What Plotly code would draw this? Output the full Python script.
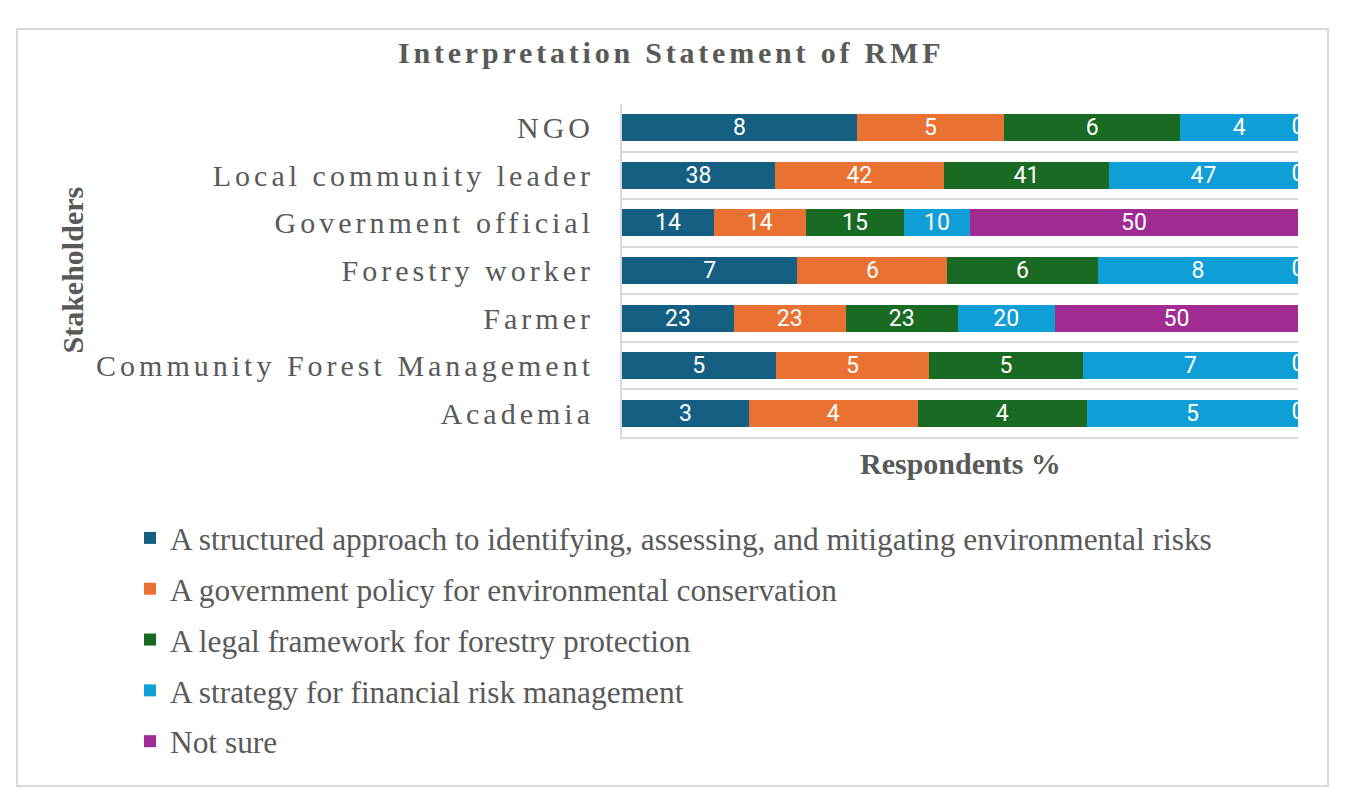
import plotly.graph_objects as go

categories = ["NGO", "Local community leader", "Government official", "Forestry worker",
              "Farmer", "Community Forest Management", "Academia"]
series_names = [
    "A structured approach to identifying, assessing, and mitigating environmental risks",
    "A government policy for environmental conservation",
    "A legal framework for forestry protection",
    "A strategy for financial risk management",
    "Not sure",
]
structured = [8, 38, 14, 7, 23, 5, 3]
gov_policy = [5, 42, 14, 6, 23, 5, 4]
legal = [6, 41, 15, 6, 23, 5, 4]
financial = [4, 47, 10, 8, 20, 7, 5]
not_sure = [0, 0, 50, 0, 50, 0, 0]
colors = ["#156082", "#E97132", "#196B24", "#0F9ED5", "#A02B93"]

series = [structured, gov_policy, legal, financial, not_sure]

# plot area in pixels
L, R, T, B = 622, 1298, 104, 437
W, H = R - L, B - T

def px_x(x):
    return (x - L) / W

def px_y(y):
    return (B - y) / H

fig = go.Figure()
label_font = dict(family="Liberation Sans Narrow, Arial Narrow, Roboto, sans-serif", size=23, color="white")

for i, (name, vals) in enumerate(zip(series_names, series)):
    fig.add_trace(go.Bar(
        y=categories, x=vals, name=name, orientation="h",
        marker=dict(color=colors[i], line=dict(width=0)),
        text=[str(v) for v in vals], texttemplate="%{text}",
        textposition="inside", insidetextanchor="middle", textangle=0,
        constraintext="none",
        insidetextfont=label_font,
        legendgroup="g%d" % i,
    ))

# zero-value labels (drawn at the segment position, clipped by the plot area)
totals = [sum(s[k] for s in series) for k in range(len(categories))]
zx, zy, zt = [], [], []
for k, cat in enumerate(categories):
    cum = 0
    for s in series:
        if s[k] == 0:
            zx.append(100.0 * cum / totals[k])
            zy.append(cat)
            zt.append("0")
        cum += s[k]
fig.add_trace(go.Scatter(x=zx, y=zy, text=zt, mode="text", textfont=label_font,
                         showlegend=False, cliponaxis=True, hoverinfo="skip"))

fig.update_layout(
    width=1345, height=796,
    barmode="stack", barnorm="percent", bargap=0.43,
    paper_bgcolor="white", plot_bgcolor="white",
    margin=dict(l=L, r=1345 - R, t=T, b=796 - B, pad=0),
    title=dict(text="<b>Interpretation Statement of RMF</b>", x=0.499, xanchor="center",
               y=1 - 52 / 796, yanchor="middle",
               font=dict(family="Liberation Serif, Times New Roman, serif", size=30, color="#595959")),
    xaxis=dict(range=[0, 100], showgrid=False, zeroline=False, showticklabels=False,
               showline=True, linecolor="#D9D9D9", linewidth=2, mirror=False),
    yaxis=dict(autorange="reversed", showgrid=True, gridcolor="#D9D9D9", gridwidth=2,
               tickson="boundaries", ticks="", showline=True, linecolor="#D9D9D9", linewidth=2,
               ticklabelstandoff=20,
               tickfont=dict(family="Liberation Serif, Times New Roman, serif", size=30, color="#595959")),
    legend=dict(x=px_x(130), y=px_y(511), xanchor="left", yanchor="top",
                orientation="v", traceorder="grouped", tracegroupgap=7,
                font=dict(family="Liberation Serif, Times New Roman, serif", size=31.4, color="#595959"),
                bgcolor="rgba(0,0,0,0)"),
    showlegend=True,
    annotations=[
        dict(text="<b>Respondents %</b>", xref="paper", yref="paper", x=0.5, y=px_y(463),
             xanchor="center", yanchor="middle", showarrow=False,
             font=dict(family="Liberation Serif, Times New Roman, serif", size=30, color="#595959")),
        dict(text="<b>Stakeholders</b>", xref="paper", yref="paper", x=px_x(72), y=0.5,
             xanchor="center", yanchor="middle", textangle=-90, showarrow=False,
             font=dict(family="Liberation Serif, Times New Roman, serif", size=30, color="#595959")),
    ],
    shapes=[dict(type="rect", xref="paper", yref="paper", x0=px_x(17), x1=px_x(1328),
                 y0=px_y(786), y1=px_y(29), line=dict(color="#D9D9D9", width=2),
                 fillcolor="rgba(0,0,0,0)", layer="below")],
)

post = """
var gd = document.getElementById('{plot_id}');
function applySpacing(){
  gd.querySelectorAll('.ytick text').forEach(function(t){ t.style.letterSpacing = '4px'; });
  var tt = gd.querySelector('.gtitle');
  if (tt) { tt.style.letterSpacing = '3.8px'; }
}
applySpacing();
if (gd.on) { gd.on('plotly_afterplot', applySpacing); }
setTimeout(applySpacing, 50);
"""

fig.write_html("out.html", post_script=post)
